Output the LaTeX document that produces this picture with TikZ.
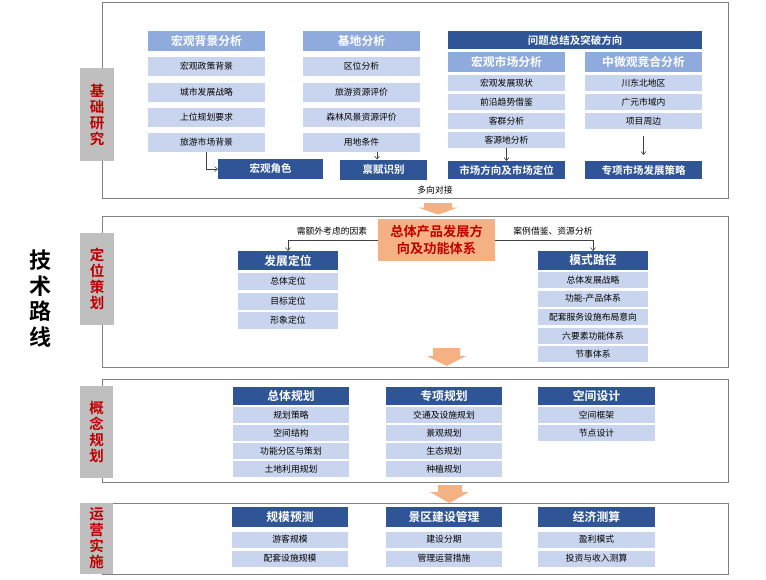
\documentclass[tikz,border=0pt]{standalone}
\usepackage{fontspec}
\setmainfont{Noto Sans CJK SC}[BoldFont={Noto Sans CJK SC Bold}]
\usetikzlibrary{arrows.meta}
\definecolor{dk}{HTML}{2F5597}
\definecolor{md}{HTML}{8FAADC}
\definecolor{lt}{HTML}{C9D5EE}
\definecolor{gy}{HTML}{BFBFBF}
\definecolor{pn}{HTML}{808080}
\definecolor{orf}{HTML}{F4B183}
\definecolor{rd}{HTML}{C00000}
\definecolor{ln}{HTML}{404040}
\begin{document}
\begin{tikzpicture}[x=1pt,y=-1pt,
 base/.style={inner sep=0pt, outer sep=0pt, align=center},
 item/.style={base, fill=lt, text=black, font=\fontsize{8.8}{10}\selectfont, minimum width=117pt, minimum height=16pt},
 hmid/.style={base, fill=md, text=white, font=\bfseries\fontsize{11.8}{13}\selectfont, minimum width=117pt, minimum height=20pt},
 hdark/.style={base, fill=dk, text=white, font=\bfseries\fontsize{10.5}{12}\selectfont, minimum width=117pt, minimum height=18pt},
 hbig/.style={hdark, font=\bfseries\fontsize{11.8}{13}\selectfont},
 panel/.style={base, draw=pn, line width=0.8pt},
 side/.style={base, fill=gy, text=rd, font=\bfseries\fontsize{14.5}{16}\selectfont, minimum width=34pt},
 small/.style={base, text=black, font=\fontsize{8.8}{10}\selectfont},
 arr/.style={draw=ln, line width=0.6pt, -{Straight Barb[length=3pt,width=5pt]}},
 oarrow/.style={fill=orf}
]
\useasboundingbox (0,0) rectangle (766,579);
\fill[white] (0,0) rectangle (766,579);

% title
\node[base, font=\bfseries\fontsize{22}{25.5}\selectfont] (title) at (40,298.5) {技\\术\\路\\线};

% ---------- panel 1 ----------
\node[panel, minimum width=626pt, minimum height=196pt] (p1) at (415,100) {};
\node[side, minimum height=93pt] (s1) at (97,114.5) {基\\础\\研\\究};

\node[hmid] (h1) at (206.5,41) {宏观背景分析};
\node[item, minimum height=19pt] (a1) at (206.5,66.5) {宏观政策背景};
\node[item, minimum height=19pt] (a2) at (206.5,92) {城市发展战略};
\node[item, minimum height=19pt] (a3) at (206.5,117) {上位规划要求};
\node[item, minimum height=19pt] (a4) at (206.5,142) {旅游市场背景};

\node[hmid] (h2) at (361.5,41) {基地分析};
\node[item, minimum height=19pt] (b1) at (361.5,66.5) {区位分析};
\node[item, minimum height=19pt] (b2) at (361.5,92) {旅游资源评价};
\node[item, minimum height=19pt] (b3) at (361.5,117) {森林风景资源评价};
\node[item, minimum height=19pt] (b4) at (361.5,142) {用地条件};

\node[hdark, minimum width=105pt, minimum height=20pt] (r1) at (270.5,169) {宏观角色};
\node[hdark, minimum width=87pt, minimum height=20pt] (r2) at (383.5,169.5) {禀赋识别};

\node[hdark, minimum width=254pt, minimum height=18pt] (h0) at (575,40) {问题总结及突破方向};
\node[hmid] (h3) at (506.5,62) {宏观市场分析};
\node[hmid] (h4) at (643.5,62) {中微观竞合分析};
\node[item] (c1) at (506.5,83) {宏观发展现状};
\node[item] (c2) at (506.5,102) {前沿趋势借鉴};
\node[item] (c3) at (506.5,121) {客群分析};
\node[item] (c4) at (506.5,140) {客源地分析};
\node[item] (d1) at (643.5,83) {川东北地区};
\node[item] (d2) at (643.5,102) {广元市域内};
\node[item] (d3) at (643.5,121) {项目周边};
\node[hdark] (r3) at (506.5,170) {市场方向及市场定位};
\node[hdark] (r4) at (643.5,170) {专项市场发展策略};

\draw[arr] (a4.south) |- (r1.west);
\draw[arr] ([xshift=15.5pt]b4.south) -- ([xshift=-6.5pt]r2.north);
\draw[arr] (c4.south) -- (r3.north);
\draw[arr] ([yshift=-6.5pt]d3.south) -- ([yshift=6pt]r4.north);
\node[small] (dx) at (435,190) {多向对接};

\fill[oarrow] (424,203) -- (452,203) -- (452,207.5) -- (458,207.5) -- (438,214.5) -- (418,207.5) -- (424,207.5) -- cycle;

% ---------- panel 2 ----------
\node[panel, minimum width=626pt, minimum height=151pt] (p2) at (415,291.5) {};
\node[side, minimum height=92pt] (s2) at (97,279) {定\\位\\策\\划};

\node[base, fill=orf, text=rd, font=\bfseries\fontsize{13.2}{17}\selectfont, minimum width=117pt, minimum height=42pt] (o) at (436.5,240) {总体产品发展方\\向及功能体系};

\node[hbig, minimum width=100pt, minimum height=19pt] (fz) at (288,260.5) {发展定位};
\node[item, minimum width=100pt, minimum height=17pt] (e1) at (288,281.5) {总体定位};
\node[item, minimum width=100pt, minimum height=17pt] (e2) at (288,301) {目标定位};
\node[item, minimum width=100pt, minimum height=17pt] (e3) at (288,320.5) {形象定位};

\node[hbig, minimum width=110pt, minimum height=19pt] (ms) at (593,260.5) {模式路径};
\node[item, minimum width=110pt] (f1) at (593,280) {总体发展战略};
\node[item, minimum width=110pt] (f2) at (593,298.6) {功能-产品体系};
\node[item, minimum width=110pt] (f3) at (593,317.2) {配套服务设施布局意向};
\node[item, minimum width=110pt] (f4) at (593,335.8) {六要素功能体系};
\node[item, minimum width=110pt] (f5) at (593,354.4) {节事体系};

\draw[arr] (o.west) -| (fz.north);
\draw[arr] (o.east) -| (ms.north);
\node[small] (l1) at (332,231) {需额外考虑的因素};
\node[small] (l2) at (553,231) {案例借鉴、资源分析};

\fill[oarrow] (433,348) -- (460,348) -- (460,356) -- (466,356) -- (446.5,366) -- (427,356) -- (433,356) -- cycle;

% ---------- panel 3 ----------
\node[panel, minimum width=626pt, minimum height=103pt] (p3) at (415,430.5) {};
\node[side, minimum width=33pt, minimum height=92pt] (s3) at (96.5,432) {概\\念\\规\\划};

\node[hbig, minimum width=116pt] (g1) at (291,396) {总体规划};
\node[item, minimum width=116pt] (g11) at (291,415) {规划策略};
\node[item, minimum width=116pt] (g12) at (291,433) {空间结构};
\node[item, minimum width=116pt] (g13) at (291,451) {功能分区与策划};
\node[item, minimum width=116pt] (g14) at (291,469) {土地利用规划};

\node[hbig, minimum width=116pt] (g2) at (444,396) {专项规划};
\node[item, minimum width=116pt] (g21) at (444,415) {交通及设施规划};
\node[item, minimum width=116pt] (g22) at (444,433) {景观规划};
\node[item, minimum width=116pt] (g23) at (444,451) {生态规划};
\node[item, minimum width=116pt] (g24) at (444,469) {种植规划};

\node[hbig, minimum width=117pt] (g3) at (596.5,396) {空间设计};
\node[item, minimum width=117pt] (g31) at (596.5,415) {空间框架};
\node[item, minimum width=117pt] (g32) at (596.5,433) {节点设计};

\fill[oarrow] (438,485) -- (462,485) -- (462,492) -- (469,492) -- (449.5,503) -- (430,492) -- (438,492) -- cycle;

% ---------- panel 4 ----------
\node[panel, minimum width=626pt, minimum height=71pt] (p4) at (415,538.5) {};
\node[side, minimum width=33pt, minimum height=71pt] (s4) at (96.5,538.5) {运\\营\\实\\施};

\node[hbig, minimum width=116pt, minimum height=20pt] (k1) at (290,517) {规模预测};
\node[item, minimum width=116pt] (k11) at (290,539.5) {游客规模};
\node[item, minimum width=116pt] (k12) at (290,558.5) {配套设施规模};

\node[hbig, minimum width=116pt, minimum height=20pt] (k2) at (444,517) {景区建设管理};
\node[item, minimum width=116pt] (k21) at (444,539.5) {建设分期};
\node[item, minimum width=116pt] (k22) at (444,558.5) {管理运营措施};

\node[hbig, minimum width=117pt, minimum height=20pt] (k3) at (596.5,517) {经济测算};
\node[item, minimum width=117pt] (k31) at (596.5,539.5) {盈利模式};
\node[item, minimum width=117pt] (k32) at (596.5,558.5) {投资与收入测算};
\end{tikzpicture}
\end{document}
